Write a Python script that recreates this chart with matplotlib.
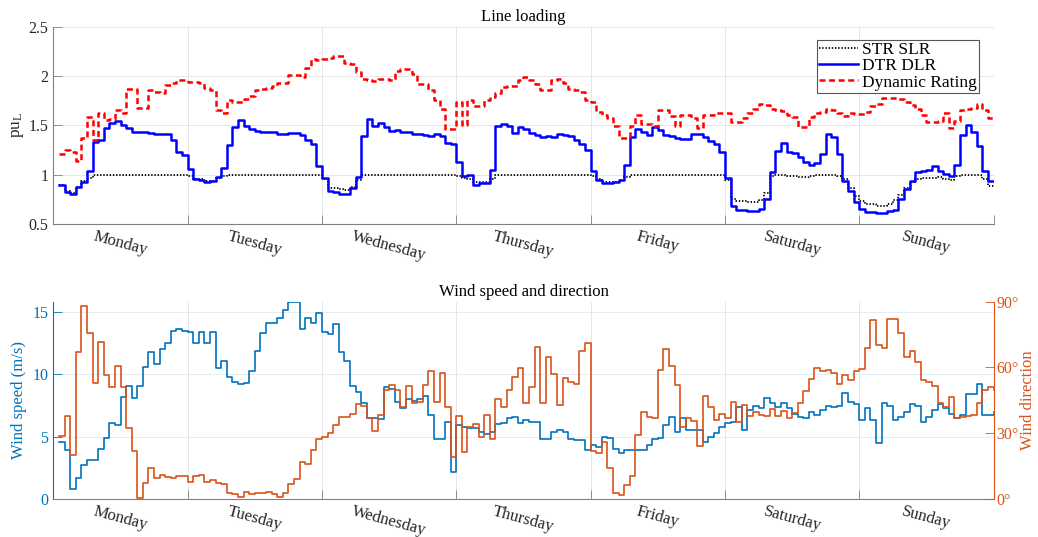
import matplotlib
matplotlib.use('Agg')
import matplotlib.pyplot as plt
import numpy as np

plt.rcParams['font.family'] = ['Liberation Serif', 'DejaVu Serif']
plt.rcParams['mathtext.fontset'] = 'custom'
plt.rcParams['mathtext.rm'] = 'Liberation Serif'
plt.rcParams['mathtext.it'] = 'Liberation Serif:italic'
plt.rcParams['lines.scale_dashes'] = False

# hourly values over one week (hour 1 .. 168)
hours = np.arange(1, 169)
days = ['Monday', 'Tuesday', 'Wednesday', 'Thursday', 'Friday', 'Saturday', 'Sunday']

str_slr = [
    0.90, 0.83, 0.81, 0.87, 0.94, 0.97, 1.00, 1.00, 1.00, 1.00, 1.00, 1.00, 1.00, 1.00, 1.00, 1.00,
    1.00, 1.00, 1.00, 1.00, 1.00, 1.00, 1.00, 0.99, 0.96, 0.96, 0.94, 0.94, 0.97, 0.99, 1.00, 1.00,
    1.00, 1.00, 1.00, 1.00, 1.00, 1.00, 1.00, 1.00, 1.00, 1.00, 1.00, 1.00, 1.00, 1.00, 1.00, 0.96,
    0.86, 0.86, 0.85, 0.84, 0.87, 0.95, 1.00, 1.00, 1.00, 1.00, 1.00, 1.00, 1.00, 1.00, 1.00, 1.00,
    1.00, 1.00, 1.00, 1.00, 1.00, 1.00, 1.00, 0.99, 0.97, 0.96, 0.93, 0.93, 0.93, 0.96, 1.00, 1.00,
    1.00, 1.00, 1.00, 1.00, 1.00, 1.00, 1.00, 1.00, 1.00, 1.00, 1.00, 1.00, 1.00, 1.00, 1.00, 0.99,
    0.96, 0.93, 0.93, 0.93, 0.95, 0.98, 1.00, 1.00, 1.00, 1.00, 1.00, 1.00, 1.00, 1.00, 1.00, 1.00,
    1.00, 1.00, 1.00, 1.00, 1.00, 1.00, 1.00, 0.95, 0.75, 0.73, 0.73, 0.72, 0.72, 0.74, 0.81, 0.99,
    1.00, 1.00, 0.99, 0.99, 0.98, 0.98, 0.99, 1.00, 1.00, 1.00, 1.00, 0.99, 0.96, 0.86, 0.78, 0.73,
    0.70, 0.70, 0.68, 0.68, 0.70, 0.74, 0.79, 0.86, 0.93, 0.96, 0.97, 0.97, 0.97, 0.98, 0.96, 0.95,
    0.99, 1.00, 1.00, 1.00, 1.00, 0.96, 0.89, 0.89,
]
dtr_dlr = [
    0.90, 0.82, 0.80, 0.87, 0.93, 1.04, 1.33, 1.35, 1.47, 1.52, 1.54, 1.50, 1.47, 1.43, 1.43, 1.43,
    1.42, 1.41, 1.41, 1.41, 1.35, 1.23, 1.20, 1.06, 0.96, 0.95, 0.93, 0.94, 0.98, 1.07, 1.30, 1.48,
    1.55, 1.49, 1.46, 1.44, 1.43, 1.43, 1.43, 1.41, 1.41, 1.42, 1.42, 1.40, 1.35, 1.31, 1.09, 0.97,
    0.83, 0.82, 0.80, 0.80, 0.86, 0.98, 1.39, 1.56, 1.49, 1.52, 1.48, 1.44, 1.45, 1.43, 1.43, 1.41,
    1.41, 1.40, 1.39, 1.41, 1.39, 1.32, 1.31, 1.13, 0.99, 1.00, 0.90, 0.92, 0.92, 1.05, 1.49, 1.51,
    1.49, 1.42, 1.48, 1.46, 1.42, 1.40, 1.38, 1.39, 1.38, 1.41, 1.40, 1.39, 1.35, 1.31, 1.25, 1.04,
    0.95, 0.92, 0.92, 0.93, 0.95, 1.10, 1.38, 1.46, 1.43, 1.40, 1.48, 1.45, 1.40, 1.39, 1.37, 1.36,
    1.36, 1.41, 1.41, 1.38, 1.34, 1.31, 1.23, 0.97, 0.68, 0.64, 0.64, 0.63, 0.63, 0.65, 0.75, 1.03,
    1.24, 1.32, 1.23, 1.22, 1.18, 1.13, 1.10, 1.12, 1.21, 1.41, 1.38, 1.21, 0.94, 0.83, 0.72, 0.65,
    0.62, 0.62, 0.61, 0.61, 0.63, 0.64, 0.75, 0.85, 0.94, 1.03, 1.04, 1.05, 1.09, 1.04, 1.01, 0.99,
    1.10, 1.40, 1.50, 1.43, 1.29, 1.04, 0.94, 0.94,
]
dyn_rating = [
    1.21, 1.25, 1.23, 1.14, 1.37, 1.58, 1.35, 1.62, 1.55, 1.56, 1.66, 1.62, 1.87, 1.87, 1.68, 1.68,
    1.86, 1.84, 1.83, 1.91, 1.93, 1.96, 1.96, 1.94, 1.94, 1.93, 1.88, 1.86, 1.66, 1.63, 1.76, 1.74,
    1.74, 1.77, 1.80, 1.86, 1.87, 1.88, 1.90, 1.93, 1.93, 2.01, 2.01, 1.99, 2.08, 2.17, 2.16, 2.17,
    2.18, 2.20, 2.20, 2.13, 2.12, 2.04, 1.97, 1.96, 1.95, 1.97, 1.97, 1.96, 2.05, 2.07, 2.07, 2.02,
    1.92, 1.92, 1.86, 1.76, 1.67, 1.46, 1.46, 1.74, 1.50, 1.76, 1.70, 1.70, 1.76, 1.79, 1.83, 1.89,
    1.90, 1.90, 1.96, 1.99, 1.96, 1.92, 1.86, 1.86, 1.96, 1.97, 1.93, 1.87, 1.86, 1.84, 1.76, 1.74,
    1.64, 1.60, 1.57, 1.49, 1.37, 1.37, 1.49, 1.60, 1.51, 1.51, 1.49, 1.66, 1.66, 1.59, 1.49, 1.60,
    1.60, 1.57, 1.47, 1.60, 1.60, 1.63, 1.63, 1.63, 1.53, 1.53, 1.57, 1.62, 1.67, 1.72, 1.71, 1.67,
    1.66, 1.65, 1.60, 1.58, 1.48, 1.48, 1.58, 1.63, 1.64, 1.67, 1.66, 1.62, 1.59, 1.62, 1.61, 1.61,
    1.64, 1.70, 1.72, 1.78, 1.78, 1.78, 1.77, 1.74, 1.71, 1.67, 1.60, 1.53, 1.53, 1.54, 1.62, 1.47,
    1.54, 1.66, 1.67, 1.68, 1.72, 1.66, 1.57, 1.57,
]
wind_speed = [
    4.6, 3.9, 0.8, 1.7, 2.7, 3.1, 3.1, 4.0, 4.9, 6.1, 5.9, 8.2, 9.1, 8.1, 9.1, 10.6,
    11.8, 10.8, 12.0, 12.5, 13.5, 13.6, 13.5, 13.4, 12.5, 13.4, 12.5, 13.4, 10.5, 11.1, 9.8, 9.4,
    9.2, 9.3, 10.3, 11.9, 13.3, 14.1, 14.1, 14.5, 15.2, 15.83, 15.83, 13.6, 14.5, 14.1, 14.9, 13.4,
    13.2, 14.0, 11.8, 11.1, 9.1, 8.6, 7.7, 6.5, 6.5, 6.4, 9.0, 8.8, 7.8, 7.3, 8.0, 7.9,
    8.0, 8.3, 6.7, 4.8, 4.8, 6.2, 2.2, 5.9, 5.8, 5.7, 5.7, 5.4, 5.2, 5.4, 6.0, 6.1,
    6.5, 6.6, 6.1, 6.3, 6.15, 6.15, 4.8, 4.8, 5.4, 5.5, 5.35, 4.8, 4.7, 4.7, 3.9, 4.3,
    4.2, 5.0, 4.9, 4.0, 3.7, 3.9, 3.9, 3.9, 3.9, 4.3, 4.8, 4.9, 5.9, 6.6, 5.4, 6.5,
    5.5, 5.5, 5.5, 4.6, 5.0, 5.3, 5.75, 6.1, 6.2, 7.35, 5.5, 7.1, 7.5, 7.3, 8.1, 7.7,
    7.4, 7.7, 7.3, 6.8, 6.6, 6.5, 7.0, 6.7, 7.1, 7.5, 7.4, 7.5, 8.5, 7.8, 7.6, 6.3,
    7.3, 6.3, 4.5, 7.7, 7.5, 6.3, 6.6, 7.0, 7.6, 7.5, 6.2, 6.55, 7.1, 7.6, 7.3, 6.8,
    6.5, 6.7, 8.4, 8.4, 9.2, 6.7, 6.7, 7.0,
]
wind_dir = [
    28.9, 37.9, 20.1, 67.2, 88.0, 75.9, 52.8, 71.5, 56.6, 51.2, 60.7, 51.2, 32.2, 21.9, 0.3, 7.1,
    14.3, 9.4, 10.9, 10.2, 9.7, 10.5, 10.5, 7.9, 10.6, 10.9, 7.6, 8.7, 7.1, 6.7, 2.6, 2.3,
    0.8, 3.0, 2.1, 2.6, 2.6, 3.3, 2.3, 0.8, 2.6, 6.7, 9.1, 16.7, 16.0, 22.4, 27.4, 28.4,
    30.3, 33.8, 37.6, 37.6, 38.8, 43.2, 42.4, 36.8, 31.2, 38.3, 49.7, 52.0, 49.7, 42.1, 51.5, 43.6,
    44.4, 52.0, 58.4, 44.4, 57.3, 41.8, 19.3, 38.0, 21.3, 33.0, 34.2, 28.4, 38.3, 27.4, 45.6, 42.1,
    49.7, 55.5, 59.6, 43.6, 50.9, 69.2, 43.6, 64.9, 57.0, 42.9, 55.3, 53.5, 52.5, 67.5, 71.0, 21.9,
    20.8, 26.2, 14.0, 2.6, 1.8, 6.4, 10.6, 29.2, 39.5, 37.6, 37.1, 58.8, 68.3, 60.7, 52.0, 33.0,
    37.1, 35.6, 24.3, 47.0, 42.1, 36.0, 38.6, 37.1, 44.1, 35.3, 42.9, 38.0, 39.8, 38.3, 37.9, 41.1,
    37.9, 40.3, 36.8, 39.1, 43.9, 49.4, 54.6, 59.6, 58.4, 58.8, 57.6, 52.3, 56.6, 54.3, 58.4, 59.1,
    68.7, 81.6, 70.2, 68.7, 82.1, 82.1, 75.6, 64.9, 67.5, 62.6, 54.3, 53.5, 51.5, 43.9, 42.1, 46.4,
    36.8, 37.4, 38.0, 38.5, 44.0, 49.7, 51.2, 49.7,
]

ax_col = '#262626'
grid_col = '#e6e6e6'
c_speed = '#0072BD'
c_dir = '#D95319'
fs = 11.5

fig = plt.figure(figsize=(10.38, 5.37), dpi=100)
ax1 = fig.add_axes([0.0514, 0.5829, 0.9058, 0.3674])
ax2 = fig.add_axes([0.0514, 0.0708, 0.9058, 0.3674])


def day_axis(ax):
    ax.set_xlim(0, 168)
    ax.set_xticks(np.arange(0, 169, 24))
    ax.set_xticklabels([])
    ax.set_xticks(np.arange(12, 168, 24), minor=True)
    ax.set_xticklabels(days, minor=True, rotation=-15, ha='center', va='top',
                       fontsize=fs + 0.5, color=ax_col)
    ax.tick_params(axis='x', which='major', direction='in', length=6.5, width=0.6,
                   color='#808080')
    ax.tick_params(axis='x', which='minor', length=0, pad=3)
    ax.grid(axis='x', which='major', color=grid_col, linewidth=0.7)
    ax.spines['bottom'].set_color('#808080')
    ax.spines['top'].set_visible(False)
    ax.spines['right'].set_visible(False)
    ax.set_axisbelow(True)


# ---- line loading ----
day_axis(ax1)
ax1.step(hours, str_slr, where='post', color='black', lw=1.3, dashes=(1.0, 1.3),
         label='STR SLR')
ax1.step(hours, dtr_dlr, where='post', color='#0000ff', lw=1.8, label='DTR DLR')
ax1.step(hours, dyn_rating, where='post', color='#ff0000', lw=1.8, dashes=(4.3, 2.6),
         label='Dynamic Rating')
ax1.set_ylim(0.5, 2.5)
ax1.set_yticks([0.5, 1, 1.5, 2, 2.5])
ax1.set_yticklabels(['0.5', '1', '1.5', '2', '2.5'])
ax1.tick_params(axis='y', direction='in', length=6.5, width=0.6, color='#808080',
                labelsize=fs, labelcolor=ax_col)
ax1.grid(axis='y', color=grid_col, linewidth=0.7)
ax1.spines['left'].set_color('#808080')
ax1.set_ylabel(r'pu$_{\mathrm{L}}$', fontsize=fs + 1, color=ax_col, labelpad=2)
ax1.set_title('Line loading', fontsize=12, color='black', pad=4)
leg = ax1.legend(loc='upper right', bbox_to_anchor=(0.985, 0.935), fontsize=12.5,
                 frameon=True, fancybox=False, edgecolor='#555555', framealpha=1,
                 handlelength=2.2, handletextpad=0.25, labelspacing=0.0,
                 borderpad=0.15, borderaxespad=0)
leg.get_frame().set_linewidth(0.8)

# ---- wind speed and direction ----
day_axis(ax2)
ax2.step(hours, wind_speed, where='post', color=c_speed, lw=1.2)
ax2.set_ylim(0, 15.83)
ax2.set_yticks([0, 5, 10, 15])
ax2.tick_params(axis='y', direction='in', length=6.5, width=0.6, color=c_speed,
                labelsize=fs, labelcolor=c_speed)
ax2.grid(axis='y', color='#e3edf6', linewidth=0.7)
ax2.spines['left'].set_color(c_speed)
ax2.set_ylabel('Wind speed (m/s)', fontsize=fs + 0.5, color=c_speed, labelpad=4)
ax2.set_title('Wind speed and direction', fontsize=12, color='black', pad=4)

ax3 = ax2.twinx()
ax3.step(hours, wind_dir, where='post', color=c_dir, lw=1.2)
ax3.set_ylim(0, 90)
ax3.set_yticks([0, 30, 60, 90])
ax3.set_yticklabels(['0°', '30°', '60°', '90°'])
ax3.tick_params(axis='y', direction='in', length=6.5, width=0.6, color=c_dir,
                labelsize=fs, labelcolor=c_dir, pad=2)
ax3.spines['right'].set_color(c_dir)
ax3.spines['top'].set_visible(False)
ax3.spines['left'].set_visible(False)
ax3.spines['bottom'].set_visible(False)
ax3.set_ylabel('Wind direction', fontsize=fs + 0.5, color=c_dir, labelpad=1)

fig.savefig('out.png', dpi=100)
